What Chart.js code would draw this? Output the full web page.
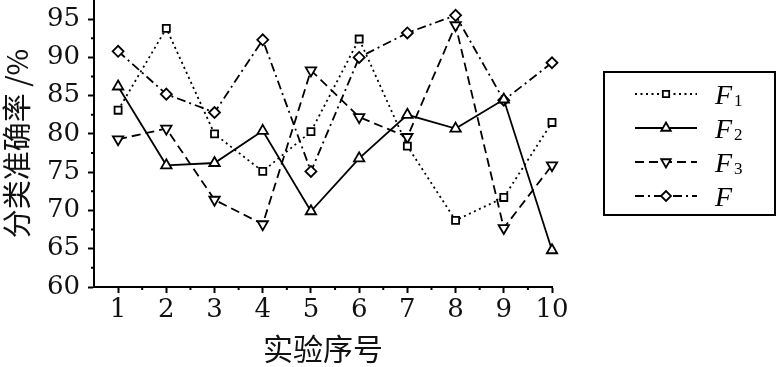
<!DOCTYPE html>
<html>
<head>
<meta charset="utf-8">
<script src="https://cdn.jsdelivr.net/npm/chart.js@4/dist/chart.umd.min.js"></script>
<style>
  html, body { margin: 0; padding: 0; background: #fff; }
  #wrap { width: 780px; height: 367px; }
</style>
</head>
<body>
<div id="wrap"><canvas id="myChart" width="780" height="367"></canvas></div>
<script>
    var runs = [1, 2, 3, 4, 5, 6, 7, 8, 9, 10];
    var f1Values = [83.1, 93.8, 80.0, 75.1, 80.3, 92.4, 78.4, 68.7, 71.7, 81.5];
    var f2Values = [86.2, 75.9, 76.2, 80.4, 69.9, 76.8, 82.5, 80.7, 84.5, 64.8];
    var f3Values = [79.3, 80.7, 71.4, 68.2, 88.3, 82.2, 79.6, 94.2, 67.7, 75.9];
    var fValues = [90.8, 85.2, 82.8, 92.3, 75.1, 90.0, 93.2, 95.5, 84.4, 89.3];
    var legendNames = ['1', '2', '3', ''];   // subscripts after the italic F

    function pts(vals) {
        return vals.map(function (v, i) { return { x: runs[i], y: v }; });
    }

    var serif = 'DejaVu Serif';
    var legendSerif = 'Liberation Serif';
    var cjk = 'Noto Sans CJK SC';

    // short minor ticks between the labelled ones
    const minorTicks = {
        id: 'minorTicks',
        afterDraw(chart) {
            const c = chart.ctx, x = chart.scales.x, y = chart.scales.y;
            c.save();
            c.strokeStyle = '#000';
            c.lineWidth = 2;
            c.beginPath();
            x.ticks.forEach(function (t) {
                if (t.value > 1 && !Number.isInteger(t.value)) {
                    const px = x.getPixelForValue(t.value);
                    c.moveTo(px, x.top); c.lineTo(px, x.top + 3);
                }
            });
            y.ticks.forEach(function (t) {
                if (t.value % 5 !== 0 && t.value < 95) {
                    const py = y.getPixelForValue(t.value);
                    c.moveTo(y.right, py); c.lineTo(y.right - 3, py);
                }
            });
            c.stroke();
            c.restore();
        }
    };

    // boxed legend with line sample and marker, F with subscript
    const boxLegend = {
        id: 'boxLegend',
        afterDraw(chart) {
            const c = chart.ctx;
            c.save();
            c.strokeStyle = '#000';
            c.lineWidth = 2;
            c.strokeRect(604, 72, 171, 143);
            chart.data.datasets.forEach(function (ds, i) {
                const ry = 94 + i * 34;
                c.strokeStyle = '#000';
                c.lineWidth = ds.borderWidth;
                c.setLineDash(ds.borderDash || []);
                c.beginPath();
                c.moveTo(635, ry); c.lineTo(697, ry);
                c.stroke();
                c.setLineDash([]);
                c.fillStyle = '#fff';
                c.lineWidth = 1.8;
                Chart.helpers.drawPoint(c, {
                    pointStyle: ds.pointStyle,
                    radius: ds.pointRadius - 0.5,
                    rotation: ds.pointRotation || 0,
                    borderWidth: 1.8
                }, 666, ry);
                c.fillStyle = '#000';
                c.textBaseline = 'alphabetic';
                c.textAlign = 'left';
                c.font = 'italic 28px "' + legendSerif + '"';
                c.fillText('F', 715, ry + 10);
                c.font = '17px "' + legendSerif + '"';
                c.fillText(legendNames[i], 734, ry + 12);
            });
            c.restore();
        }
    };

    const ctx = document.getElementById('myChart').getContext('2d');
    const myChart = new Chart(ctx, {
        type: 'line',
        data: {
            datasets: [{
                    label: 'F1',
                    data: pts(f1Values),
                    borderColor: '#000',
                    borderWidth: 1.8,
                    borderDash: [2, 3.5],
                    pointStyle: 'rect',
                    pointRadius: 5,
                    pointBorderWidth: 1.8,
                    pointBackgroundColor: '#fff',
                    pointBorderColor: '#000'
                }, {
                    label: 'F2',
                    data: pts(f2Values),
                    borderColor: '#000',
                    borderWidth: 1.8,
                    pointStyle: 'triangle',
                    pointRadius: 6,
                    pointBorderWidth: 1.8,
                    pointBackgroundColor: '#fff',
                    pointBorderColor: '#000'
                }, {
                    label: 'F3',
                    data: pts(f3Values),
                    borderColor: '#000',
                    borderWidth: 1.8,
                    borderDash: [9, 5],
                    pointStyle: 'triangle',
                    pointRotation: 180,
                    pointRadius: 6,
                    pointBorderWidth: 1.8,
                    pointBackgroundColor: '#fff',
                    pointBorderColor: '#000'
                }, {
                    label: 'F',
                    data: pts(fValues),
                    borderColor: '#000',
                    borderWidth: 1.8,
                    borderDash: [9, 4, 2, 4],
                    pointStyle: 'rectRot',
                    pointRadius: 5.5,
                    pointBorderWidth: 1.8,
                    pointBackgroundColor: '#fff',
                    pointBorderColor: '#000'
                }]
        },
        options: {
            responsive: false,
            animation: false,
            clip: false,
            layout: { autoPadding: false, padding: { left: 0, right: 228, top: 0, bottom: 0 } },
            plugins: {
                legend: { display: false },
                tooltip: { enabled: false }
            },
            elements: { line: { tension: 0 } },
            scales: {
                x: {
                    type: 'linear',
                    min: 0.5,
                    max: 10,
                    afterFit: function (s) { s.height = 80; s.paddingLeft = 0; s.paddingRight = 0; },
                    border: { color: '#000', width: 2 },
                    grid: {
                        drawOnChartArea: false,
                        tickLength: 6,
                        tickWidth: 2,
                        tickColor: function (c) {
                            return c.tick && Number.isInteger(c.tick.value) ? '#000' : 'rgba(0,0,0,0)';
                        }
                    },
                    ticks: {
                        stepSize: 0.5,
                        autoSkip: false,
                        maxRotation: 0,
                        padding: 2,
                        color: '#111',
                        font: { family: serif, size: 26 },
                        callback: function (v) { return Number.isInteger(v) ? String(v) : ''; }
                    },
                    title: {
                        display: true,
                        text: '实验序号',
                        color: '#111',
                        padding: { top: 0, bottom: 0 },
                        font: { family: cjk, size: 30 }
                    }
                },
                y: {
                    min: 60,
                    max: 97.5,
                    afterFit: function (s) { s.width = 94; s.paddingTop = 0; s.paddingBottom = 0; },
                    border: { color: '#000', width: 2 },
                    grid: {
                        drawOnChartArea: false,
                        tickLength: 6,
                        tickWidth: 2,
                        tickColor: function (c) {
                            return c.tick && c.tick.value % 5 === 0 ? '#000' : 'rgba(0,0,0,0)';
                        }
                    },
                    ticks: {
                        stepSize: 2.5,
                        autoSkip: false,
                        padding: 8,
                        color: '#111',
                        font: { family: serif, size: 26 },
                        callback: function (v) { return v % 5 === 0 ? String(v) : ''; }
                    },
                    title: {
                        display: true,
                        text: '分类准确率 /%',
                        color: '#111',
                        padding: { top: 0, bottom: 0 },
                        font: { family: cjk, size: 29 }
                    }
                }
            }
        },
        plugins: [minorTicks, boxLegend]
    });
</script>
</body>
</html>
